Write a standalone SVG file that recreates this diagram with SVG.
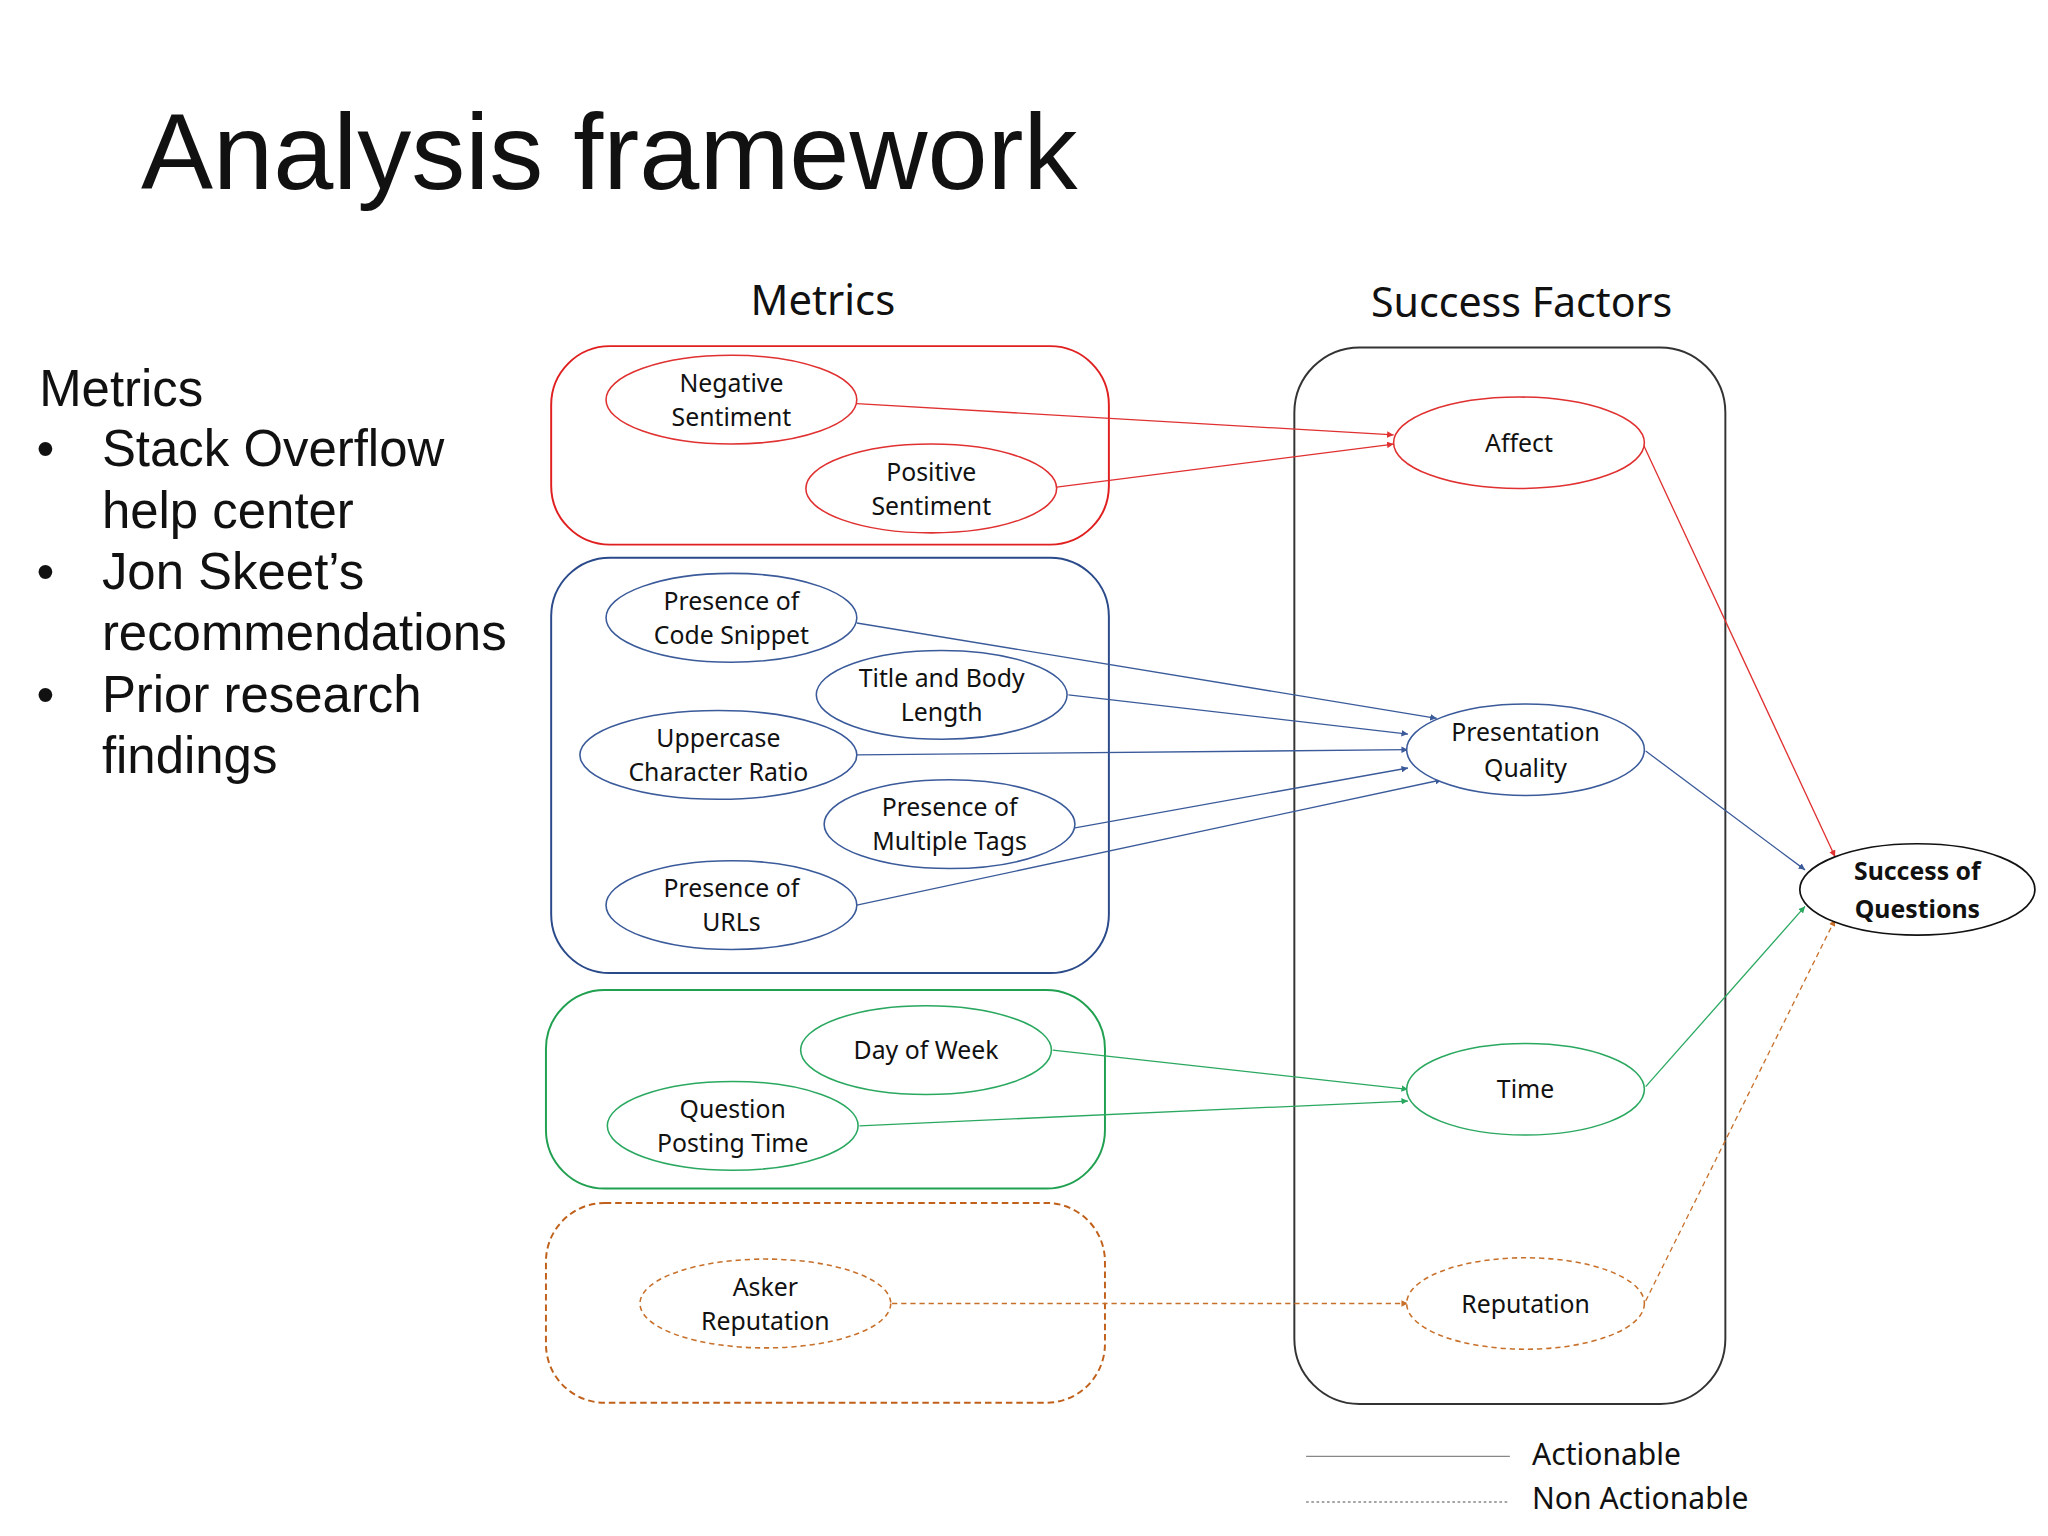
<svg xmlns="http://www.w3.org/2000/svg" width="2048" height="1536" viewBox="0 0 2048 1536">
<style>
text{font-family:"Noto Sans","Open Sans",sans-serif;fill:#111}
.t{font-family:"Liberation Sans",Arial,sans-serif}
.n{font-size:19px;text-anchor:middle}
.e{fill:#fff;stroke-width:1.2}
.r{stroke:#e03030}.b{stroke:#3a5a9a}.g{stroke:#2aa860}.o{stroke:#c8702a;stroke-dasharray:4 3}
.c line{stroke-width:1}
</style>
<defs>
<marker id="mr" viewBox="0 0 10 10" refX="10" refY="5" markerWidth="5" markerHeight="5" orient="auto"><path d="M0,0L10,5L0,10z" fill="#e03030"/></marker>
<marker id="mb" viewBox="0 0 10 10" refX="10" refY="5" markerWidth="5" markerHeight="5" orient="auto"><path d="M0,0L10,5L0,10z" fill="#3a5a9a"/></marker>
<marker id="mg" viewBox="0 0 10 10" refX="10" refY="5" markerWidth="5" markerHeight="5" orient="auto"><path d="M0,0L10,5L0,10z" fill="#2aa860"/></marker>
<marker id="mo" viewBox="0 0 10 10" refX="10" refY="5" markerWidth="5" markerHeight="5" orient="auto"><path d="M0,0L10,5L0,10z" fill="#c8702a"/></marker>
</defs>
<rect width="2048" height="1536" fill="#fff"/>
<g transform="scale(1.3061)">
<text class="t" x="108" y="145" font-size="82" textLength="717" lengthAdjust="spacingAndGlyphs">Analysis framework</text>
<text x="630" y="241" font-size="32" text-anchor="middle">Metrics</text>
<text x="1165" y="243" font-size="31.5" text-anchor="middle">Success Factors</text>
<g font-size="39">
<text class="t" x="30" y="311">Metrics</text>
<text class="t" x="28" y="357">•</text><text class="t" x="78" y="357">Stack Overflow</text>
<text class="t" x="78" y="404">help center</text>
<text class="t" x="28" y="451">•</text><text class="t" x="78" y="451">Jon Skeet’s</text>
<text class="t" x="78" y="498">recommendations</text>
<text class="t" x="28" y="545">•</text><text class="t" x="78" y="545">Prior research</text>
<text class="t" x="78" y="592">findings</text>
</g>
<g id="groups" fill="none" stroke-width="1.5">
<rect x="422" y="265" width="427" height="152" rx="45" stroke="#e02020"/>
<rect x="422" y="427" width="427" height="318" rx="45" stroke="#2a4a8a"/>
<rect x="418" y="758" width="428" height="152" rx="45" stroke="#20a050"/>
<rect x="418" y="921" width="428" height="153" rx="45" stroke="#c0601a" stroke-dasharray="5 3"/>
<rect x="991" y="266" width="330" height="809" rx="50" stroke="#333"/>
</g>
<g id="connectors" class="c" fill="none">
<line x1="656" y1="309" x2="1067" y2="333" class="r" marker-end="url(#mr)"/>
<line x1="809" y1="373" x2="1067" y2="340" class="r" marker-end="url(#mr)"/>
<line x1="1258" y1="340" x2="1405" y2="656" class="r" marker-end="url(#mr)"/>
<line x1="656" y1="477" x2="1100" y2="550" class="b" marker-end="url(#mb)"/>
<line x1="818" y1="532" x2="1078" y2="562" class="b" marker-end="url(#mb)"/>
<line x1="656" y1="578" x2="1078" y2="574" class="b" marker-end="url(#mb)"/>
<line x1="822" y1="634" x2="1078" y2="588" class="b" marker-end="url(#mb)"/>
<line x1="656" y1="693" x2="1104" y2="597" class="b" marker-end="url(#mb)"/>
<line x1="1260" y1="575" x2="1382" y2="666" class="b" marker-end="url(#mb)"/>
<line x1="806" y1="804" x2="1078" y2="834" class="g" marker-end="url(#mg)"/>
<line x1="658" y1="862" x2="1078" y2="843" class="g" marker-end="url(#mg)"/>
<line x1="1260" y1="832" x2="1382" y2="694" class="g" marker-end="url(#mg)"/>
<line x1="683" y1="998" x2="1078" y2="998" class="o" stroke-dasharray="2 2" marker-end="url(#mo)"/>
<line x1="1260" y1="996" x2="1405" y2="704" class="o" stroke-dasharray="2 2" marker-end="url(#mo)"/>
</g>
<g id="neg"><ellipse class="e r" cx="560" cy="306" rx="96" ry="34"/><text class="n" x="560" y="300">Negative</text><text class="n" x="560" y="326">Sentiment</text></g>
<g id="pos"><ellipse class="e r" cx="713" cy="374" rx="96" ry="34"/><text class="n" x="713" y="368">Positive</text><text class="n" x="713" y="394">Sentiment</text></g>
<g id="code"><ellipse class="e b" cx="560" cy="473" rx="96" ry="34"/><text class="n" x="560" y="467">Presence of</text><text class="n" x="560" y="493">Code Snippet</text></g>
<g id="title"><ellipse class="e b" cx="721" cy="532" rx="96" ry="34"/><text class="n" x="721" y="526">Title and Body</text><text class="n" x="721" y="552">Length</text></g>
<g id="upper"><ellipse class="e b" cx="550" cy="578" rx="106" ry="34"/><text class="n" x="550" y="572">Uppercase</text><text class="n" x="550" y="598">Character Ratio</text></g>
<g id="tags"><ellipse class="e b" cx="727" cy="631" rx="96" ry="34"/><text class="n" x="727" y="625">Presence of</text><text class="n" x="727" y="651">Multiple Tags</text></g>
<g id="urls"><ellipse class="e b" cx="560" cy="693" rx="96" ry="34"/><text class="n" x="560" y="687">Presence of</text><text class="n" x="560" y="713">URLs</text></g>
<g id="day"><ellipse class="e g" cx="709" cy="804" rx="96" ry="34"/><text class="n" x="709" y="811">Day of Week</text></g>
<g id="qpt"><ellipse class="e g" cx="561" cy="862" rx="96" ry="34"/><text class="n" x="561" y="856">Question</text><text class="n" x="561" y="882">Posting Time</text></g>
<g id="asker"><ellipse class="e o" cx="586" cy="998" rx="96" ry="34"/><text class="n" x="586" y="992">Asker</text><text class="n" x="586" y="1018">Reputation</text></g>
<g id="affect"><ellipse class="e r" cx="1163" cy="339" rx="96" ry="35"/><text class="n" x="1163" y="346">Affect</text></g>
<g id="pq"><ellipse class="e b" cx="1168" cy="574" rx="91" ry="35"/><text class="n" x="1168" y="567">Presentation</text><text class="n" x="1168" y="595">Quality</text></g>
<g id="time"><ellipse class="e g" cx="1168" cy="834" rx="91" ry="35"/><text class="n" x="1168" y="841">Time</text></g>
<g id="rep"><ellipse class="e o" cx="1168" cy="998" rx="91" ry="35"/><text class="n" x="1168" y="1005">Reputation</text></g>
<g id="success"><ellipse cx="1468" cy="681" rx="90" ry="35" fill="#fff" stroke="#111" stroke-width="1.3"/><text class="n" x="1468" y="674" font-weight="bold" font-size="20.5">Success of</text><text class="n" x="1468" y="703" font-weight="bold" font-size="20.5">Questions</text></g>
<g id="legend">
<line x1="1000" y1="1115" x2="1156" y2="1115" stroke="#888"/>
<line x1="1000" y1="1150" x2="1156" y2="1150" stroke="#888" stroke-dasharray="2 2"/>
<text x="1173" y="1122" font-size="23">Actionable</text>
<text x="1173" y="1155" font-size="23">Non Actionable</text>
</g>
</g>
</svg>
